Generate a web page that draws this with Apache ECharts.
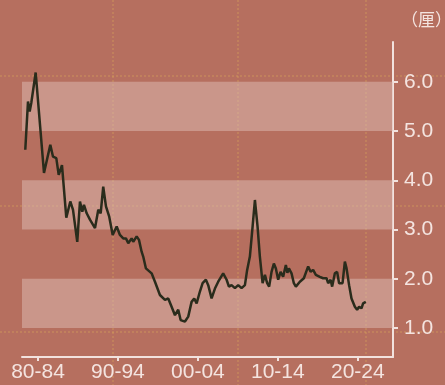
<!DOCTYPE html>
<html lang="zh">
<head>
<meta charset="utf-8">
<script src="https://cdn.jsdelivr.net/npm/echarts@6/dist/echarts.min.js"></script>
<style>
  html, body { margin: 0; padding: 0; background: #b66f5f; }
  #main { width: 445px; height: 385px; }
</style>
</head>
<body>
<div id="main"></div>
<script>
// time position (years) and value (厘)
var years = [
  1980.41, 1980.75, 1980.96, 1981.16, 1981.71, 1982.75, 1983.54, 1983.88, 1984.29, 1984.59,
  1985.0, 1985.54, 1986.04, 1986.38, 1986.91, 1987.25, 1987.54, 1987.75, 1988.09, 1988.5,
  1989.13, 1989.54, 1989.84, 1990.16, 1990.5, 1990.91, 1991.34, 1991.84, 1992.25, 1992.66,
  1993.0, 1993.29, 1993.71, 1993.91, 1994.34, 1994.63, 1994.96, 1995.16, 1995.5, 1996.21,
  1996.63, 1997.25, 1997.88, 1998.29, 1998.71, 1999.13, 1999.54, 1999.84, 2000.38, 2000.79,
  2001.21, 2001.54, 2001.84, 2002.25, 2002.59, 2003.0, 2003.29, 2003.71, 2004.13, 2004.54,
  2005.16, 2005.59, 2005.88, 2006.21, 2006.63, 2007.04, 2007.46, 2007.88, 2008.16, 2008.5,
  2008.84, 2009.13, 2009.46, 2009.75, 2010.09, 2010.38, 2010.66, 2010.91, 2011.21, 2011.5,
  2011.75, 2012.04, 2012.34, 2012.66, 2013.0, 2013.19, 2013.38, 2013.71, 2014.0, 2014.25,
  2014.75, 2015.25, 2015.79, 2016.09, 2016.41, 2016.75, 2017.25, 2017.66, 2018.09, 2018.29,
  2018.59, 2018.79, 2019.13, 2019.41, 2019.66, 2020.09, 2020.38, 2020.59, 2020.91, 2021.21,
  2021.63, 2021.91, 2022.16, 2022.46, 2022.66, 2023.0
];
var values = [
  4.62, 5.60, 5.40, 5.57, 6.19, 4.15, 4.72, 4.48, 4.45, 4.11,
  4.31, 3.24, 3.57, 3.40, 2.75, 3.57, 3.36, 3.50, 3.33, 3.20,
  3.03, 3.40, 3.33, 3.87, 3.47, 3.26, 2.89, 3.06, 2.89, 2.82,
  2.82, 2.72, 2.82, 2.75, 2.86, 2.79, 2.55, 2.45, 2.21, 2.11,
  1.94, 1.67, 1.57, 1.60, 1.43, 1.26, 1.37, 1.16, 1.13, 1.23,
  1.53, 1.60, 1.50, 1.74, 1.91, 1.98, 1.87, 1.60, 1.80, 1.94,
  2.11, 1.98, 1.84, 1.87, 1.81, 1.87, 1.81, 1.87, 2.18, 2.45,
  3.06, 3.60, 3.06, 2.45, 1.91, 2.08, 1.91, 1.84, 2.14, 2.31,
  2.21, 1.98, 2.14, 2.04, 2.28, 2.12, 2.21, 2.11, 1.91, 1.84,
  1.94, 2.01, 2.25, 2.14, 2.18, 2.08, 2.04, 2.01, 2.01, 1.91,
  1.98, 1.84, 2.11, 2.14, 1.91, 1.91, 2.35, 2.21, 1.87, 1.60,
  1.43, 1.37, 1.43, 1.40, 1.50, 1.53
];
var xTickPos = [1982, 1992, 2002, 2012, 2022];
var xTickLabels = ['80-84', '90-94', '00-04', '10-14', '20-24'];
var yTicks = [1, 2, 3, 4, 5, 6];
var bands = [[1, 2], [3, 4], [5, 6]];

var textColor = '#f4e4e0';
var lineData = years.map(function (y, i) { return [y, values[i]]; });

// faint dotted page guides from the scan
var guides = [];
[113, 238, 366].forEach(function (x) {
  guides.push({ type: 'line', shape: { x1: x, y1: 0, x2: x, y2: 385 }, silent: true,
    style: { stroke: 'rgba(222,176,90,0.55)', lineWidth: 1, lineDash: [2, 2] } });
});
[76, 206, 332].forEach(function (y) {
  guides.push({ type: 'line', shape: { x1: 0, y1: y, x2: 445, y2: y }, silent: true,
    style: { stroke: 'rgba(222,176,90,0.55)', lineWidth: 1, lineDash: [2, 2] } });
});

var chart = echarts.init(document.getElementById('main'), null, { renderer: 'canvas' });
var option = {
  backgroundColor: '#b66f5f',
  animation: false,
  grid: { left: 22, right: 52, top: 42, bottom: 28 },
  graphic: guides.concat([{
    type: 'text', left: 401, top: 11, z: 10,
    style: { text: '（厘）', fill: textColor, fontSize: 17, fontFamily: 'Noto Sans CJK SC' }
  }]),
  xAxis: {
    type: 'value',
    min: 1980,
    max: 2026.4,
    splitLine: { show: false },
    axisLine: { show: true, onZero: false, lineStyle: { color: '#f2e2de', width: 2 } },
    axisTick: { show: true, customValues: xTickPos, length: 4, lineStyle: { color: '#f2e2de', width: 2 } },
    axisLabel: {
      customValues: xTickPos,
      color: textColor,
      fontSize: 21,
      fontFamily: 'Liberation Sans',
      margin: 5,
      formatter: function (v) { return xTickLabels[xTickPos.indexOf(Math.round(v))]; }
    }
  },
  yAxis: {
    type: 'value',
    position: 'right',
    min: 0.41,
    max: 6.81,
    splitLine: { show: false },
    axisLine: { show: true, lineStyle: { color: '#f2e2de', width: 2 } },
    axisTick: { show: true, customValues: yTicks, length: 5, lineStyle: { color: '#f2e2de', width: 2 } },
    axisLabel: {
      customValues: yTicks,
      color: textColor,
      fontSize: 21,
      fontFamily: 'Liberation Sans',
      margin: 11,
      formatter: function (v) { return v.toFixed(1); }
    }
  },
  series: [{
    type: 'line',
    data: lineData,
    showSymbol: false,
    lineStyle: { color: '#2a2c1c', width: 2.5 },
    markArea: {
      silent: true,
      itemStyle: { color: 'rgba(222,190,182,0.5)' },
      data: bands.map(function (b) { return [{ yAxis: b[0] }, { yAxis: b[1] }]; })
    }
  }]
};
chart.setOption(option);
</script>
</body>
</html>
